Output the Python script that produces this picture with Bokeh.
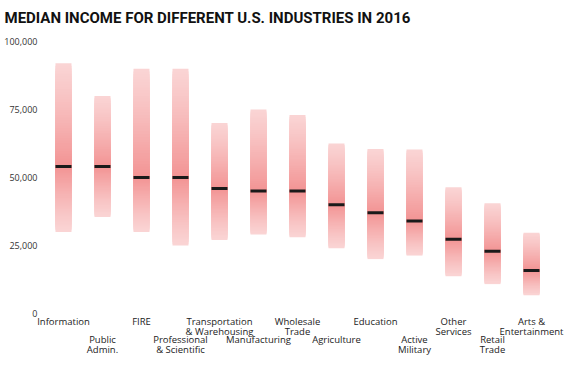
from bokeh.plotting import figure
from bokeh.models import Range1d, ColumnDataSource
from bokeh.core.properties import value
from bokeh.embed import file_html
from bokeh.resources import INLINE

# ---- data ----
industries = ["Information", "Public\nAdmin.", "FIRE", "Professional\n& Scientific",
              "Transportation\n& Warehousing", "Manufacturing", "Wholesale\nTrade",
              "Agriculture", "Education", "Active\nMilitary", "Other\nServices",
              "Retail\nTrade", "Arts &\nEntertainment"]
low = [30000, 35500, 30000, 25000, 27000, 29000, 28000, 24000, 20000, 21300, 13700, 10800, 6700]
median = [54000, 54000, 50000, 50000, 46000, 45000, 45000, 40000, 37000, 34000, 27300, 22900, 15800]
high = [92000, 80000, 90000, 90000, 70000, 75000, 73000, 62500, 60500, 60300, 46400, 40500, 29700]
y_ticks = [0, 25000, 50000, 75000, 100000]

TITLE = "MEDIAN INCOME FOR DIFFERENT U.S. INDUSTRIES IN 2016"
FONT = "Open Sans"

X0 = -1.615
p = figure(width=567, height=358, output_backend="svg", toolbar_location=None,
           x_range=Range1d(X0, 12.923), y_range=Range1d(-16544, 104044),
           min_border_left=0, min_border_right=0, min_border_top=30, min_border_bottom=0,
           title=TITLE)
p.outline_line_color = None
p.grid.visible = False
p.axis.visible = False
p.background_fill_color = "white"
p.border_fill_color = "white"

p.title.text_font = "Roboto"
p.title.text_font_style = "bold"
p.title.text_font_size = "15px"
p.title.text_color = "#111111"
p.title.align = "left"
p.title.offset = 4
p.title.standoff = 8

# ---- y tick labels ----
ysrc = ColumnDataSource(dict(x=[X0] * len(y_ticks), y=y_ticks,
                             t=[f"{v:,}" for v in y_ticks]))
p.text(x="x", y="y", text="t", source=ysrc, x_offset=37,
       text_align="right", text_baseline="middle",
       text_font=value(FONT), text_font_size="9px", text_color="#333333")

# ---- gradient bars built from low/median/high (nested layers, darkest on top) ----
def mix(a):
    base = (238, 110, 110)
    return "#%02x%02x%02x" % tuple(int(round(255 - a * (255 - c))) for c in base)

N = 40
hw = 0.205
L, R, B, T, C = [], [], [], [], []
for k in range(N):
    f = k / N
    a = 0.30 + 0.45 * (f ** 1.2)
    col = mix(a)
    for i in range(len(industries)):
        lo_k = low[i] + (median[i] - low[i]) * f
        hi_k = high[i] + (median[i] - high[i]) * f
        L.append(i - hw); R.append(i + hw); B.append(lo_k); T.append(median[i]); C.append(col)
        L.append(i - hw); R.append(i + hw); B.append(median[i]); T.append(hi_k); C.append(col)
p.quad(left=L, right=R, bottom=B, top=T, fill_color=C, line_color=None)

xs = list(range(len(industries)))
p.rect(x=xs, y=median, width=2 * hw, height=3, height_units="screen",
       fill_color="#1a1a1a", line_color=None)

# ---- category labels, staggered ----
src1 = ColumnDataSource(dict(x=xs[0::2], y=[0] * len(xs[0::2]), t=industries[0::2]))
src2 = ColumnDataSource(dict(x=xs[1::2], y=[0] * len(xs[1::2]), t=industries[1::2]))
for src, off in ((src1, 1), (src2, 19)):
    p.text(x="x", y="y", text="t", source=src, y_offset=off,
           text_align="center", text_baseline="top",
           text_font=value(FONT), text_font_size="9.5px", text_color="#222222",
           text_line_height=0.82)

open("out.html", "w").write(file_html(p, INLINE))
